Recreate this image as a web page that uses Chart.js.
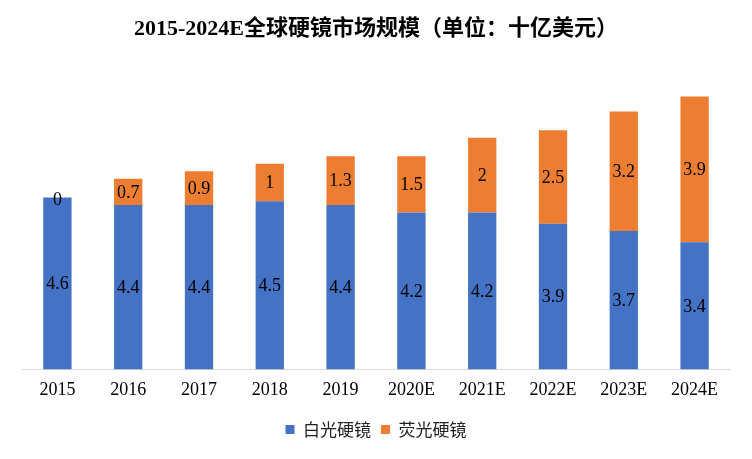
<!DOCTYPE html>
<html><head><meta charset="utf-8">
<script src="https://cdn.jsdelivr.net/npm/chart.js@4/dist/chart.umd.min.js"></script>
<style>html,body{margin:0;padding:0;background:#fff}#wrap{width:752px;height:459px}</style>
</head><body><div id="wrap"><canvas id="c" width="752" height="459"></canvas></div>
<script>
const categories = ['2015','2016','2017','2018','2019','2020E','2021E','2022E','2023E','2024E'];
const whiteLight = [4.6,4.4,4.4,4.5,4.4,4.2,4.2,3.9,3.7,3.4];
const fluorescent = [0,0.7,0.9,1,1.3,1.5,2,2.5,3.2,3.9];
const seriesNames = ['白光硬镜','荧光硬镜'];
const titleText = '2015-2024E全球硬镜市场规模（单位：十亿美元）';

const labelPlugin = {
  id: 'barLabels',
  afterDatasetsDraw(chart) {
    const ctx = chart.ctx;
    ctx.save();
    ctx.font = '18px "Liberation Serif", "Times New Roman", serif';
    ctx.fillStyle = '#000';
    ctx.textAlign = 'center';
    ctx.textBaseline = 'middle';
    chart.data.datasets.forEach((ds, di) => {
      const meta = chart.getDatasetMeta(di);
      meta.data.forEach((el, i) => {
        const y = (el.y + el.base) / 2;
        ctx.fillText(String(ds.data[i]), el.x, y + (ds.data[i] === 0 ? 3 : 1));
      });
    });
    ctx.restore();
  }
};

new Chart(document.getElementById('c'), {
  type: 'bar',
  data: {
    labels: categories,
    datasets: [
      { label: seriesNames[0], data: whiteLight, backgroundColor: '#4472C4', barPercentage: 0.4, categoryPercentage: 1 },
      { label: seriesNames[1], data: fluorescent, backgroundColor: '#ED7D31', barPercentage: 0.4, categoryPercentage: 1 }
    ]
  },
  options: {
    responsive: false,
    animation: false,
    layout: { padding: { left: 22, right: 22, top: 0, bottom: 11 } },
    plugins: {
      title: {
        display: true, text: titleText, color: '#000',
        font: { family: '"Liberation Serif", "Noto Sans CJK SC", serif', size: 22, weight: 'bold' },
        padding: { top: 16, bottom: 28 }
      },
      legend: {
        position: 'bottom',
        labels: {
          boxWidth: 9, boxHeight: 9, color: '#222', padding: 10,
          font: { family: '"Noto Sans CJK SC", sans-serif', size: 17 }
        }
      },
      tooltip: { enabled: false }
    },
    scales: {
      x: {
        stacked: true,
        grid: { display: false, drawTicks: false },
        border: { color: '#d9d9d9', width: 1 },
        ticks: { color: '#000', padding: 10, font: { family: '"Liberation Serif", serif', size: 18 } }
      },
      y: { stacked: true, display: false, min: 0, max: 8 }
    }
  },
  plugins: [labelPlugin]
});
</script></body></html>
